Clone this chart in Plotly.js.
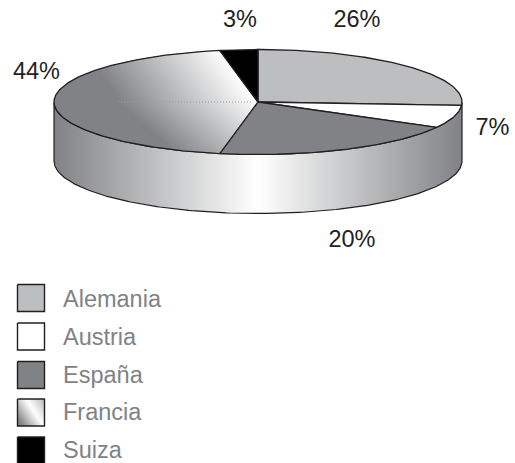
<!DOCTYPE html>
<html>
<head>
<meta charset="utf-8">
<script src="https://cdn.plot.ly/plotly-3.0.1.min.js"></script>
<style>html,body{margin:0;padding:0;background:#fff;overflow:hidden}</style>
</head>
<body>
<div id="chart" style="width:515px;height:463px"></div>
<script>
// Share of each country, clockwise from twelve o'clock
const countries = ['Alemania', 'Austria', 'España', 'Francia', 'Suiza'];
const shares = [26, 7, 20, 44, 3];

// Styling and placement of the disc, in plot units (one unit is one pixel)
const sliceColors = ['#bcbec0', '#ffffff', '#808285', null, '#000000'];
const labelSpots = [[357, 21], [492.5, 129], [352, 241], [36.5, 73.5], [240, 21]];
const disc = {cx: 258, cy: 102, rx: 204, ry: 52.5, depth: 59};
const legendRows = [284.5, 323, 361.5, 399, 437];
const legendTextRows = [301, 339, 377, 414, 452];
const INK = '#231f20', GREY = '#808285';

const traces = [];

function rimPoint(pct, dy) {
  const a = pct / 100 * 2 * Math.PI;
  return [disc.cx + disc.rx * Math.sin(a), disc.cy - disc.ry * Math.cos(a) + (dy || 0)];
}

function arc(fromPct, toPct, dy) {
  const n = Math.max(2, Math.round((toPct - fromPct) * 4));
  const pts = [];
  for (let i = 0; i <= n; i++) pts.push(rimPoint(fromPct + (toPct - fromPct) * i / n, dy));
  return pts;
}

function addPolygon(pts, fill, lineColor, lineWidth, extra) {
  const closed = pts.concat([pts[0]]);
  traces.push(Object.assign({
    type: 'scatter', mode: 'lines', hoverinfo: 'skip', showlegend: false,
    x: closed.map(p => p[0]), y: closed.map(p => p[1]),
    fill: fill ? 'toself' : 'none', fillcolor: fill || undefined,
    line: {color: lineColor || 'rgba(0,0,0,0)', width: lineWidth || 0}
  }, extra || {}));
}

// Keep the part of a polygon where the dot product with n is at least c
function clipHalfPlane(pts, n, c) {
  const out = [];
  const f = p => p[0] * n[0] + p[1] * n[1] - c;
  pts.forEach((p, i) => {
    const q = pts[(i + 1) % pts.length], fp = f(p), fq = f(q);
    if (fp >= 0) out.push(p);
    if ((fp >= 0) !== (fq >= 0)) {
      const t = fp / (fp - fq);
      out.push([p[0] + (q[0] - p[0]) * t, p[1] + (q[1] - p[1]) * t]);
    }
  });
  return out;
}

function mix(stops, t) {
  let i = 0;
  while (i < stops.length - 2 && t > stops[i + 1][0]) i++;
  const [t0, a] = stops[i], [t1, b] = stops[i + 1];
  const u = Math.min(1, Math.max(0, (t - t0) / (t1 - t0)));
  const rgb = a.map((v, k) => Math.round(v + (b[k] - v) * u));
  return 'rgb(' + rgb.join(',') + ')';
}

// Paints a diagonal gradient as overlapping bands running along iso direction d,
// t = 0 through point p0 and t = 1 through point p1
function paintGradient(poly, d, p0, p1, stops, steps) {
  const len = Math.hypot(d[0], d[1]);
  const n = [-d[1] / len, d[0] / len];
  let c0 = p0[0] * n[0] + p0[1] * n[1];
  let c1 = p1[0] * n[0] + p1[1] * n[1];
  const sign = c1 >= c0 ? 1 : -1;
  const nn = [n[0] * sign, n[1] * sign];
  c0 *= sign; c1 *= sign;
  for (let k = 0; k < steps; k++) {
    const piece = clipHalfPlane(poly, nn, c0 + (c1 - c0) * k / steps);
    if (piece.length > 2) addPolygon(piece, mix(stops, (k + 0.5) / steps));
  }
}

// Outer wall of the disc
const wall = arc(25, 75, 0).concat(arc(25, 75, disc.depth).reverse());
addPolygon(wall, GREY, INK, 1.2, {
  fillgradient: {type: 'horizontal', colorscale: [[0, GREY], [0.5, '#ffffff'], [1, GREY]]}
});

// Top face slices
const fadeStops = [[0, [128, 130, 133]], [1, [255, 255, 255]]];
const centre = [disc.cx, disc.cy];
let running = 0;
shares.forEach((share, i) => {
  const outline = [centre].concat(arc(running, running + share));
  if (sliceColors[i]) {
    addPolygon(outline, sliceColors[i], INK, 1.3);
  } else {
    addPolygon(outline, GREY);
    const upper = clipHalfPlane(outline, [0, -1], -disc.cy);
    const lower = clipHalfPlane(outline, [0, 1], disc.cy);
    paintGradient(upper, [36, 50], [98, 72], centre, fadeStops, 48);
    paintGradient(lower, [1, 0.9], [118, 102], centre, fadeStops, 48);
    // Seam between the two gradient halves
    traces.push({
      type: 'scatter', mode: 'lines', hoverinfo: 'skip', showlegend: false,
      x: [118, disc.cx - 6], y: [disc.cy, disc.cy],
      line: {color: '#9a9a9c', width: 1, dash: '1px 2px'}
    });
    addPolygon(outline, null, INK, 1.3);
  }
  running += share;
});

// Percentage labels around the disc
traces.push({
  type: 'scatter', mode: 'text', hoverinfo: 'skip', showlegend: false,
  x: labelSpots.map(s => s[0]), y: labelSpots.map(s => s[1]),
  text: shares.map(v => v + '%'), textposition: 'middle center',
  textfont: {family: '"Liberation Sans", Arial, sans-serif', size: 23.5, color: INK}
});

// Legend swatches and names
const SWATCH = 27;
countries.forEach((name, i) => {
  const x0 = 17.5, y0 = legendRows[i];
  const box = [[x0, y0], [x0 + SWATCH, y0], [x0 + SWATCH, y0 + SWATCH], [x0, y0 + SWATCH]];
  if (sliceColors[i]) {
    addPolygon(box, sliceColors[i], INK, 1.4);
  } else {
    addPolygon(box, GREY);
    paintGradient(box, [2, 3], [x0 + 2, y0 + SWATCH - 4], [x0 + SWATCH, y0 + 2],
      [[0, [128, 130, 133]], [0.55, [255, 255, 255]], [1, [188, 190, 192]]], 18);
    addPolygon(box, null, INK, 1.4);
  }
});
traces.push({
  type: 'scatter', mode: 'text', hoverinfo: 'skip', showlegend: false,
  x: countries.map(() => 63), y: legendTextRows,
  text: countries, textposition: 'middle right',
  textfont: {family: '"Liberation Sans", Arial, sans-serif', size: 23.5, color: GREY}
});

const hiddenAxis = {visible: false, fixedrange: true, autorange: false};
Plotly.newPlot('chart', traces, {
  width: 515, height: 463,
  margin: {l: 0, r: 0, t: 0, b: 0},
  paper_bgcolor: '#ffffff', plot_bgcolor: '#ffffff',
  showlegend: false,
  xaxis: Object.assign({range: [0, 515]}, hiddenAxis),
  yaxis: Object.assign({range: [463, 0]}, hiddenAxis)
}, {displayModeBar: false, staticPlot: true});
</script>
</body>
</html>
